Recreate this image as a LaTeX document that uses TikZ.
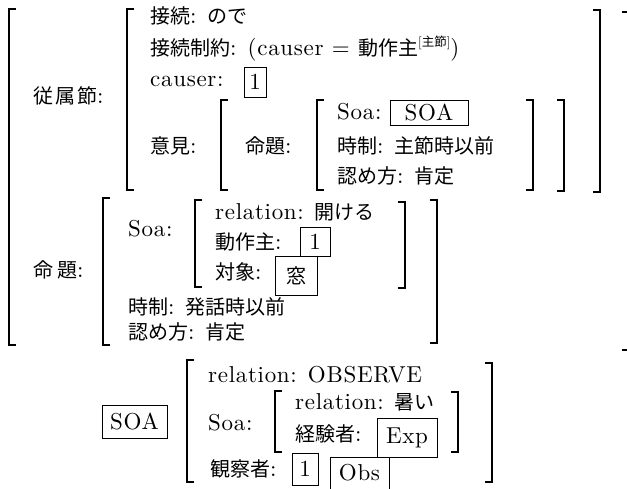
\documentclass[tikz,border=0pt]{standalone}
\usepackage{fontspec}
\setmainfont{lmroman10-regular.otf}[LetterSpace=3]
\newfontfamily\jp{Noto Sans CJK JP}
\newcommand\J[1]{{\jp\fontsize{20}{20}\selectfont #1}}
\newcommand\Js[1]{{\jp\fontsize{12.5}{12.5}\selectfont #1}}
\tikzset{
  txt/.style={anchor=base west, inner sep=0pt, font=\fontsize{23}{26}\selectfont},
  boxed/.style={draw, line width=0.8pt, inner sep=0pt, font=\fontsize{23}{26}\selectfont},
  brk/.style={line width=1.5pt, line cap=butt, line join=miter}
}
\newcommand\LB[3]{\draw[brk] (#1+7,#2) -- (#1,#2) -- (#1,#3) -- (#1+7,#3);}
\newcommand\RB[3]{\draw[brk] (#1-7,#2) -- (#1,#2) -- (#1,#3) -- (#1-7,#3);}
\begin{document}
\begin{tikzpicture}[x=1pt,y=-1pt]
\useasboundingbox (0,0) rectangle (627,489);
% brackets
\LB{9}{9}{345}
\draw[brk] (622,12) -- (627,12);
\draw[brk] (622,350) -- (627,350);
\LB{127}{9}{190} \RB{600}{10}{192}
\LB{221}{100}{190} \RB{564}{100}{191}
\LB{317}{100}{190} \RB{533}{100}{190}
\LB{103}{198}{345} \RB{437}{200}{343}
\LB{195}{200}{287} \RB{405}{202}{288}
\LB{187}{360}{482} \RB{492}{363}{482}
\LB{275}{391}{452} \RB{458}{392}{452}
% upper block
\node[txt] (t9) at (33,104) {\J{従\hspace{2pt}属\hspace{2pt}節}:};
\node[txt] (t1) at (150,24) {\J{接続}: \J{ので}};
\node[txt] (t2) at (150,56) {\J{接続制約}: (causer = \J{動作主}\raisebox{9pt}{\fontsize{13}{13}\selectfont[\Js{主節}]})};
\node[txt] (t3) at (150,87) {causer:};
\node[boxed, minimum width=22pt, minimum height=30pt] (b1) at (255,82) {1};
\node[txt] (t4) at (150,154) {\J{意見}:};
\node[txt] (t5) at (245,154) {\J{命題}:};
\node[txt] (t6) at (337,120) {Soa:};
\node[boxed, minimum width=78pt, minimum height=25pt] (b2) at (429,113) {SOA};
\node[txt] (t7) at (337,154) {\J{時制}: \J{主節時以前}};
\node[txt] (t8) at (337,184) {\J{認め方}: \J{肯定}};
% middle block
\node[txt] (t10) at (33,278) {\J{命\hspace{4pt}題}:};
\node[txt] (t11) at (128,237) {Soa:};
\node[txt] (t12) at (215,220) {relation: \J{開ける}};
\node[txt] (t13) at (215,250) {\J{動作主}:};
\node[boxed, minimum width=30pt, minimum height=29pt] (b3) at (315,241.5) {1};
\node[txt] (t14) at (215,280) {\J{対象}:};
\node[boxed, minimum width=42pt, minimum height=39pt] (b4) at (296,275.5) {\J{窓}};
\node[txt] (t15) at (128,315) {\J{時制}: \J{発話時以前}};
\node[txt] (t16) at (128,340) {\J{認め方}: \J{肯定}};
% lower block
\node[boxed, minimum width=65pt, minimum height=33pt] (b5) at (134.5,421.5) {SOA};
\node[txt] (t17) at (208,382) {relation: OBSERVE};
\node[txt] (t18) at (208,430) {Soa:};
\node[txt] (t19) at (295,409) {relation: \J{暑い}};
\node[txt] (t20) at (295,441) {\J{経験者}:};
\node[boxed, minimum width=60pt, minimum height=39pt] (b6) at (407,437.5) {Exp};
\node[txt] (t21) at (210,476) {\J{観察者}:};
\node[boxed, minimum width=26pt, minimum height=32pt] (b7) at (305,469) {1};
\node[boxed, minimum width=59pt, minimum height=32pt] (b8) at (359.5,473) {Obs};
\end{tikzpicture}
\end{document}
